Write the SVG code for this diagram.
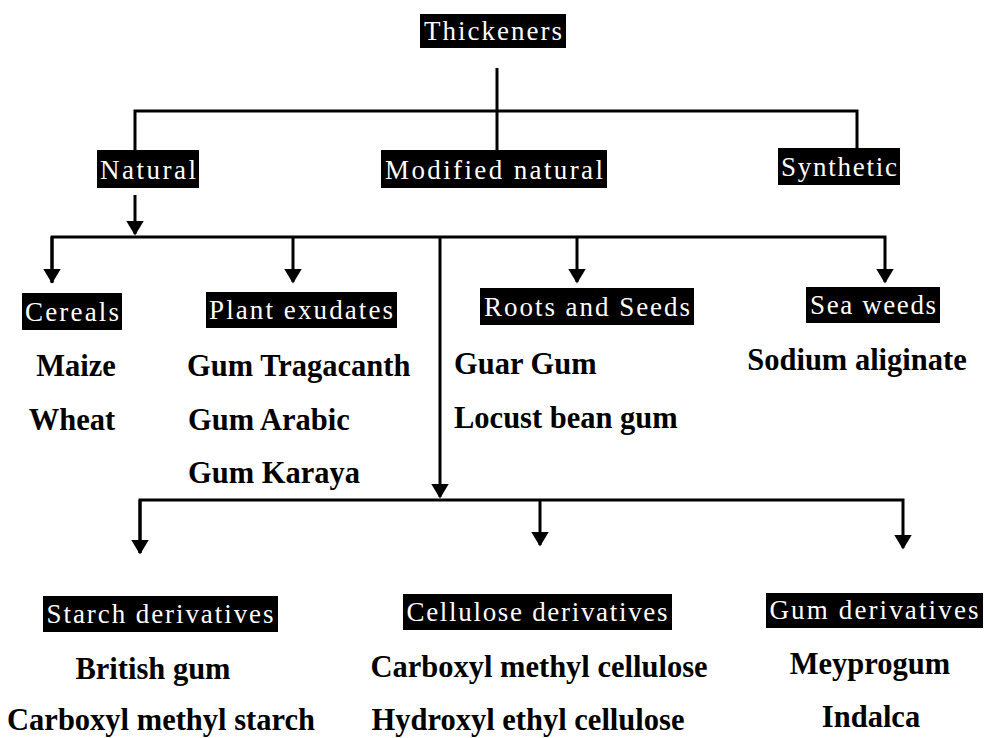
<svg xmlns="http://www.w3.org/2000/svg" width="984" height="738" viewBox="0 0 984 738">
<style>
.box{fill:#000}
.bt{fill:#fff;font-family:"Liberation Serif",serif;font-size:27px;text-anchor:middle}
.it{fill:#000;font-family:"Liberation Serif",serif;font-size:30.5px;font-weight:bold}
.c{text-anchor:middle}
.ln{stroke:#000;stroke-width:3;fill:none}
</style>
<defs>
<marker id="ah" markerWidth="5" markerHeight="6" refX="4.5" refY="3" orient="auto" markerUnits="strokeWidth">
<path d="M0,0 L5,3 L0,6 Z" fill="#000"/>
</marker>
</defs>
<rect width="984" height="738" fill="#fff"/>
<g id="connectors">
<path class="ln" d="M497,68 V150"/>
<path class="ln" d="M135,150 V111 H857 V148"/>
<path class="ln" d="M135,195 V234" marker-end="url(#ah)"/>
<path class="ln" d="M52,283 V237 H885 V282" marker-end="url(#ah)"/>
<path class="ln" d="M293,237 V282" marker-end="url(#ah)"/>
<path class="ln" d="M577,237 V282" marker-end="url(#ah)"/>
<path class="ln" d="M440,237 V497" marker-end="url(#ah)"/>
<path class="ln" d="M140,553 V500 H903 V548" marker-end="url(#ah)"/>
<path class="ln" d="M52,237 V282" marker-end="url(#ah)"/>
<path class="ln" d="M140,500 V553" marker-end="url(#ah)"/>
<path class="ln" d="M540,500 V545" marker-end="url(#ah)"/>
</g>
<g id="thickeners"><rect class="box" x="420" y="14" width="146" height="34"/><text class="bt" x="493" y="40" textLength="138">Thickeners</text></g>
<g id="natural"><rect class="box" x="97" y="150" width="102" height="38"/><text class="bt" x="148" y="179" textLength="96">Natural</text></g>
<g id="modified"><rect class="box" x="381" y="150" width="226" height="38"/><text class="bt" x="494" y="179" textLength="218">Modified natural</text></g>
<g id="synthetic"><rect class="box" x="778" y="148" width="122" height="37"/><text class="bt" x="839" y="176" textLength="116">Synthetic</text></g>
<g id="cereals"><rect class="box" x="22" y="293" width="100" height="37"/><text class="bt" x="72" y="321" textLength="94">Cereals</text>
<text class="it c" x="76" y="376">Maize</text><text class="it c" x="72" y="430">Wheat</text></g>
<g id="plant"><rect class="box" x="206" y="292" width="191" height="36"/><text class="bt" x="301" y="319" textLength="184">Plant exudates</text>
<text class="it" x="187" y="376">Gum Tragacanth</text><text class="it" x="188" y="430">Gum Arabic</text><text class="it" x="188" y="483">Gum Karaya</text></g>
<g id="roots"><rect class="box" x="480" y="288" width="214" height="37"/><text class="bt" x="587" y="316" textLength="206">Roots and Seeds</text>
<text class="it" x="454" y="374">Guar Gum</text><text class="it" x="454" y="428">Locust bean gum</text></g>
<g id="seaweeds"><rect class="box" x="806" y="287" width="134" height="36"/><text class="bt" x="873" y="314" textLength="126">Sea weeds</text>
<text class="it c" x="857" y="370">Sodium aliginate</text></g>
<g id="starch"><rect class="box" x="43" y="596" width="235" height="36"/><text class="bt" x="160" y="623" textLength="227">Starch derivatives</text>
<text class="it c" x="153" y="679">British gum</text><text class="it c" x="161" y="730">Carboxyl methyl starch</text></g>
<g id="cellulose"><rect class="box" x="403" y="594" width="269" height="36"/><text class="bt" x="537" y="621" textLength="261">Cellulose derivatives</text>
<text class="it c" x="539" y="677">Carboxyl methyl cellulose</text><text class="it c" x="528" y="730">Hydroxyl ethyl cellulose</text></g>
<g id="gum"><rect class="box" x="766" y="593" width="217" height="35"/><text class="bt" x="874" y="619" textLength="209">Gum derivatives</text>
<text class="it c" x="870" y="674">Meyprogum</text><text class="it c" x="871" y="727">Indalca</text></g>
</svg>
